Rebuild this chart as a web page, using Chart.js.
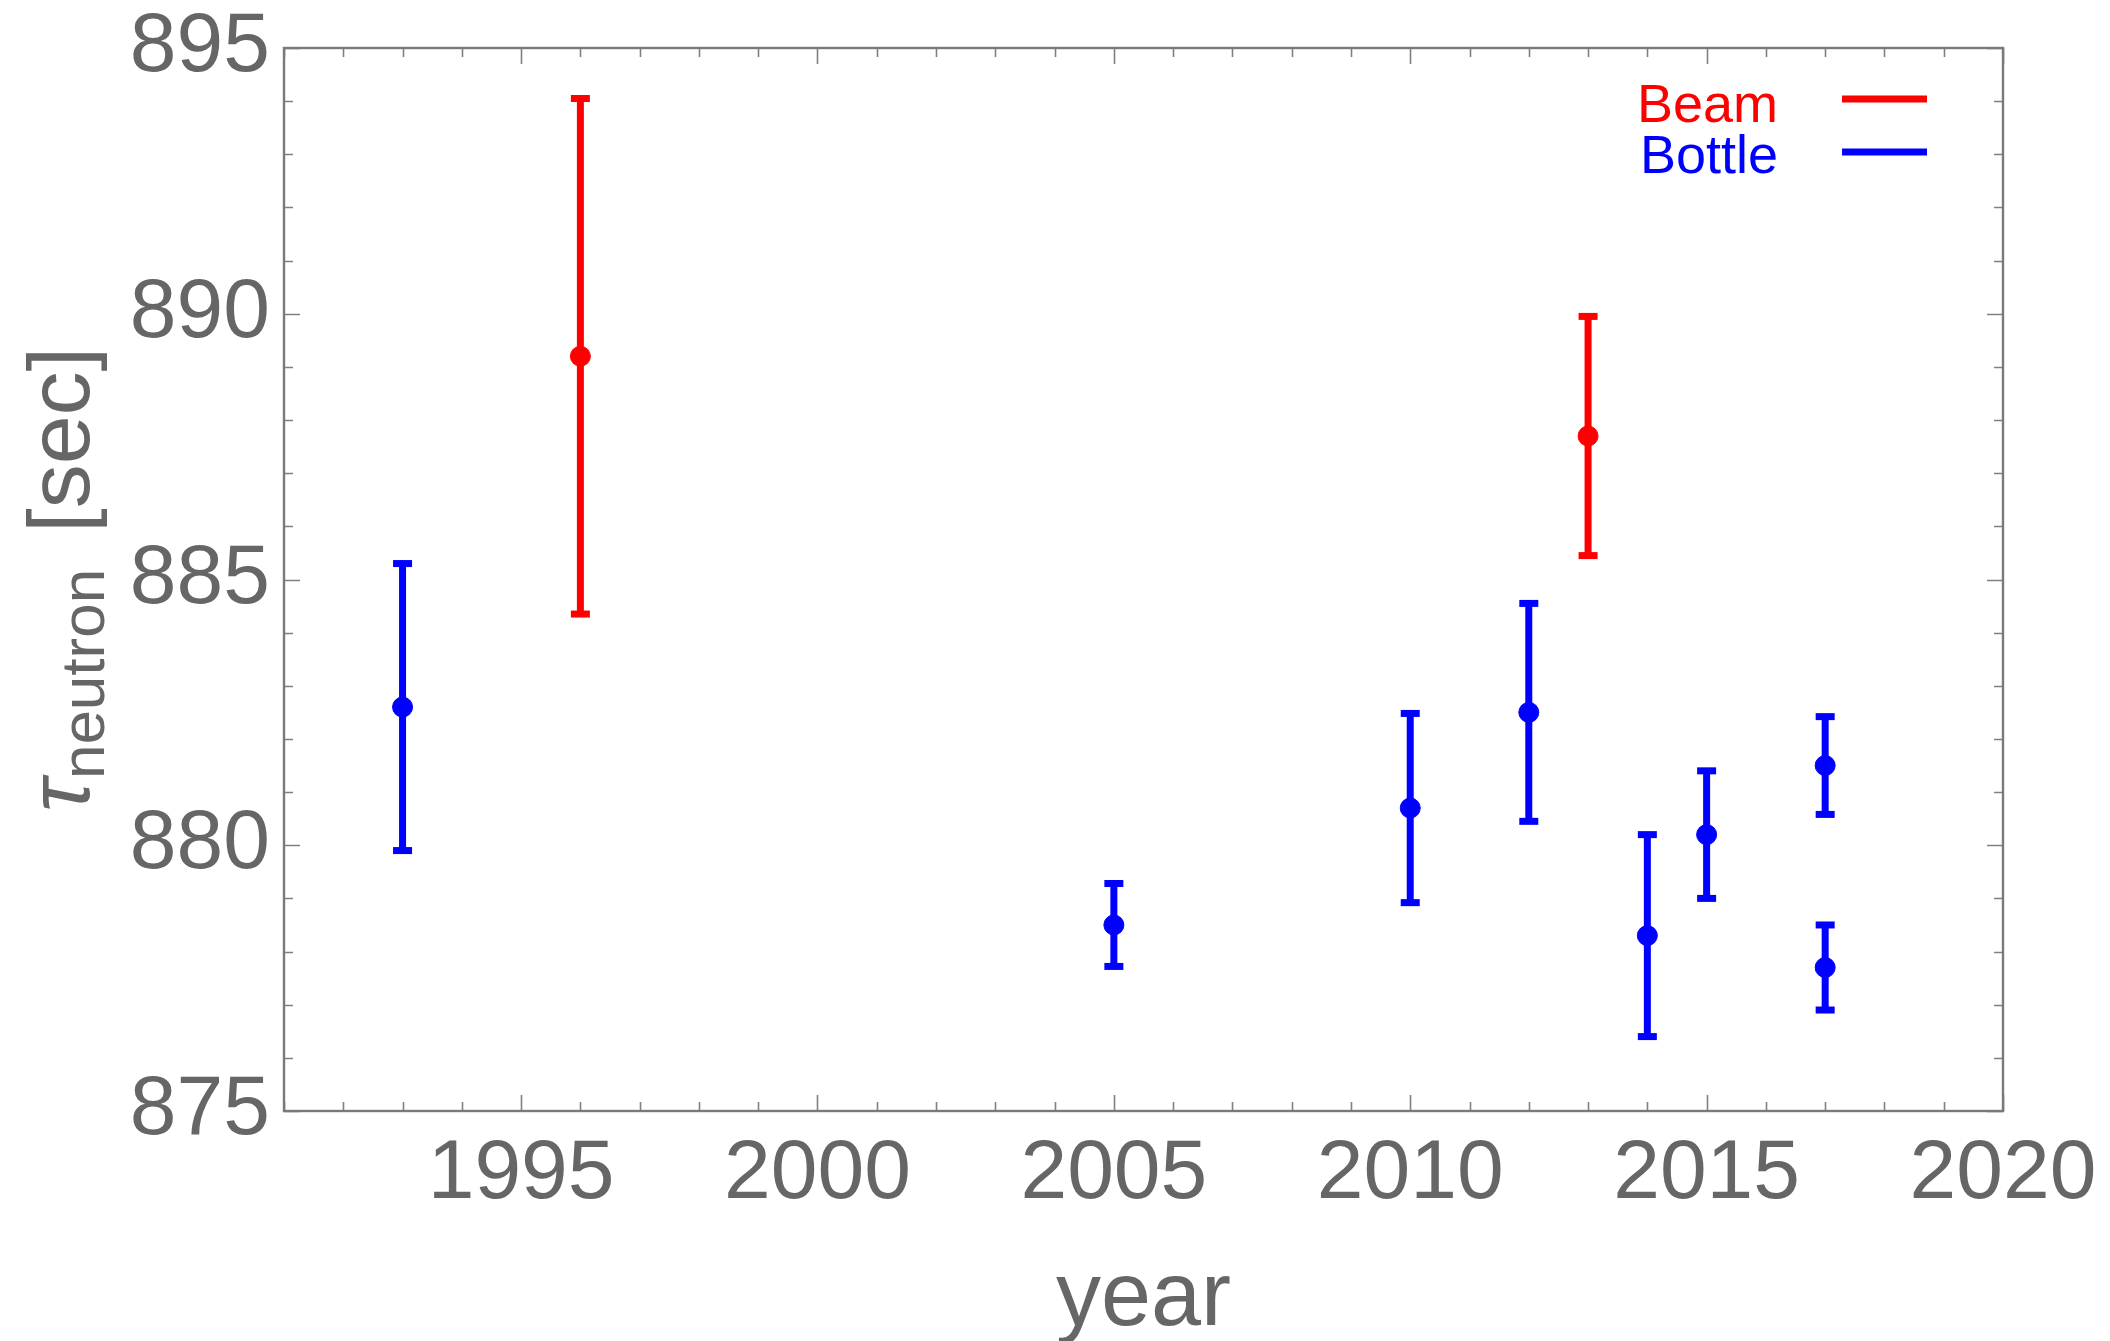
<!DOCTYPE html>
<html lang="en">
<head>
    <meta charset="UTF-8">
    <title>Neutron lifetime by year</title>
    <script src="https://cdn.jsdelivr.net/npm/chart.js"></script>
    <style>
        body { margin: 0; background: #fff; }
        #wrap { width: 2110px; height: 1341px; }
    </style>
</head>
<body>
    <div id="wrap">
        <canvas id="tauChart" width="2110" height="1341"></canvas>
    </div>

    <script>
        const beamYears = [1996, 2013];
        const beamTau = [889.2, 887.7];
        const beamErr = [4.85, 2.25];

        const bottleYears = [1993, 2005, 2010, 2012, 2014, 2015, 2017, 2017];
        const bottleTau = [882.6, 878.5, 880.7, 882.5, 878.3, 880.2, 881.5, 877.7];
        const bottleErr = [2.7, 0.78, 1.78, 2.05, 1.9, 1.2, 0.92, 0.8];

        const xTicks = [1995, 2000, 2005, 2010, 2015, 2020];
        const yTicks = [875, 880, 885, 890, 895];
        const xRange = [1991, 2020];
        const yRange = [875, 895];

        const RED = "#ff0000";
        const BLUE = "#0000ff";
        const GREY = "#666666";
        const FONT = "'Liberation Sans', Arial, sans-serif";

        function errorSegments(years, tau, err) {
            let pts = [];
            years.forEach((yr, i) => {
                pts.push({ x: yr, y: tau[i] - err[i] });
                pts.push({ x: yr, y: tau[i] + err[i] });
                pts.push({ x: yr, y: null });
            });
            return pts;
        }

        function centres(years, tau) {
            return years.map((yr, i) => ({ x: yr, y: tau[i] }));
        }

        function barSet(data, color) {
            return {
                data: data,
                showLine: true,
                spanGaps: false,
                borderColor: color,
                borderWidth: 7,
                pointStyle: "line",
                pointRadius: 9.5,
                pointBorderWidth: 7,
                pointBorderColor: color,
                order: 2
            };
        }

        function pointSet(data, color) {
            return {
                data: data,
                pointRadius: 10,
                pointBorderWidth: 1,
                pointBackgroundColor: color,
                pointBorderColor: color,
                order: 1
            };
        }

        // frame with inward major/minor ticks on all four sides
        const frameTicks = {
            id: "frameTicks",
            beforeDatasetsDraw(chart) {
                const { ctx, chartArea: a, scales: { x, y } } = chart;
                ctx.save();
                ctx.strokeStyle = "#808080";
                ctx.lineWidth = 1.6;
                ctx.beginPath();
                for (let v = x.min; v <= x.max; v++) {
                    let px = Math.round(x.getPixelForValue(v)) + 0.5;
                    let len = v % 5 === 0 ? 16 : 9;
                    ctx.moveTo(px, a.bottom); ctx.lineTo(px, a.bottom - len);
                    ctx.moveTo(px, a.top); ctx.lineTo(px, a.top + len);
                }
                for (let v = y.min; v <= y.max; v++) {
                    let py = Math.round(y.getPixelForValue(v)) + 0.5;
                    let len = v % 5 === 0 ? 16 : 9;
                    ctx.moveTo(a.left, py); ctx.lineTo(a.left + len, py);
                    ctx.moveTo(a.right, py); ctx.lineTo(a.right - len, py);
                }
                ctx.stroke();
                ctx.lineWidth = 2.4;
                ctx.strokeStyle = "#7a7a7a";
                ctx.strokeRect(a.left, a.top, a.right - a.left, a.bottom - a.top);
                ctx.restore();
            }
        };

        // y title with subscript, and the legend in the top right corner
        const labels = {
            id: "labels",
            afterDraw(chart) {
                const { ctx, chartArea: a } = chart;
                ctx.save();

                let big = "88px " + FONT;
                let sub = "62px " + FONT;
                ctx.font = "italic " + big;
                let wTau = ctx.measureText("\u03c4").width;
                ctx.font = sub;
                let wSub = ctx.measureText("neutron").width;
                ctx.font = big;
                let wSec = ctx.measureText("[sec]").width;
                let gap = 36;
                let total = wTau + wSub + gap + wSec;
                let cy = (a.top + a.bottom) / 2;

                ctx.translate(89, cy + total / 2);
                ctx.rotate(-Math.PI / 2);
                ctx.fillStyle = GREY;
                ctx.textBaseline = "alphabetic";
                ctx.textAlign = "left";
                ctx.font = "italic " + big;
                ctx.fillText("\u03c4", 0, 0);
                ctx.font = sub;
                ctx.fillText("neutron", wTau, 15);
                ctx.font = big;
                ctx.fillText("[sec]", wTau + wSub + gap, 0);
                ctx.setTransform(1, 0, 0, 1, 0, 0);

                ctx.font = "54px " + FONT;
                ctx.textAlign = "right";
                ctx.fillStyle = RED;
                ctx.fillText("Beam", 1778, 122);
                ctx.fillStyle = BLUE;
                ctx.fillText("Bottle", 1778, 173);
                ctx.lineWidth = 7;
                ctx.strokeStyle = RED;
                ctx.beginPath(); ctx.moveTo(1842, 99); ctx.lineTo(1927, 99); ctx.stroke();
                ctx.strokeStyle = BLUE;
                ctx.beginPath(); ctx.moveTo(1842, 152); ctx.lineTo(1927, 152); ctx.stroke();
                ctx.restore();
            }
        };

        new Chart(document.getElementById("tauChart"), {
            type: "scatter",
            data: {
                datasets: [
                    barSet(errorSegments(beamYears, beamTau, beamErr), RED),
                    barSet(errorSegments(bottleYears, bottleTau, bottleErr), BLUE),
                    pointSet(centres(beamYears, beamTau), RED),
                    pointSet(centres(bottleYears, bottleTau), BLUE)
                ]
            },
            options: {
                responsive: false,
                animation: false,
                events: [],
                layout: { padding: { top: 48, right: 107, left: 0, bottom: 0 } },
                plugins: { legend: { display: false }, tooltip: { enabled: false } },
                scales: {
                    x: {
                        type: "linear",
                        min: xRange[0],
                        max: xRange[1],
                        grid: { display: false },
                        border: { display: false },
                        afterBuildTicks: s => { s.ticks = xTicks.map(v => ({ value: v })); },
                        afterFit: s => { s.height = 230; },
                        ticks: {
                            color: GREY,
                            font: { family: FONT, size: 84 },
                            padding: 5,
                            maxRotation: 0,
                            callback: v => String(v)
                        },
                        title: {
                            display: true,
                            text: "year",
                            color: GREY,
                            font: { family: FONT, size: 90 },
                            padding: { top: 0, bottom: -13 }
                        }
                    },
                    y: {
                        type: "linear",
                        min: yRange[0],
                        max: yRange[1],
                        grid: { display: false },
                        border: { display: false },
                        afterBuildTicks: s => { s.ticks = yTicks.map(v => ({ value: v })); },
                        afterFit: s => { s.width = 284; s.paddingTop = 0; s.paddingBottom = 0; },
                        ticks: {
                            color: GREY,
                            font: { family: FONT, size: 84, lineHeight: 0.5 },
                            padding: 6,
                            callback: v => String(v)
                        }
                    }
                }
            },
            plugins: [frameTicks, labels]
        });
    </script>
</body>
</html>
